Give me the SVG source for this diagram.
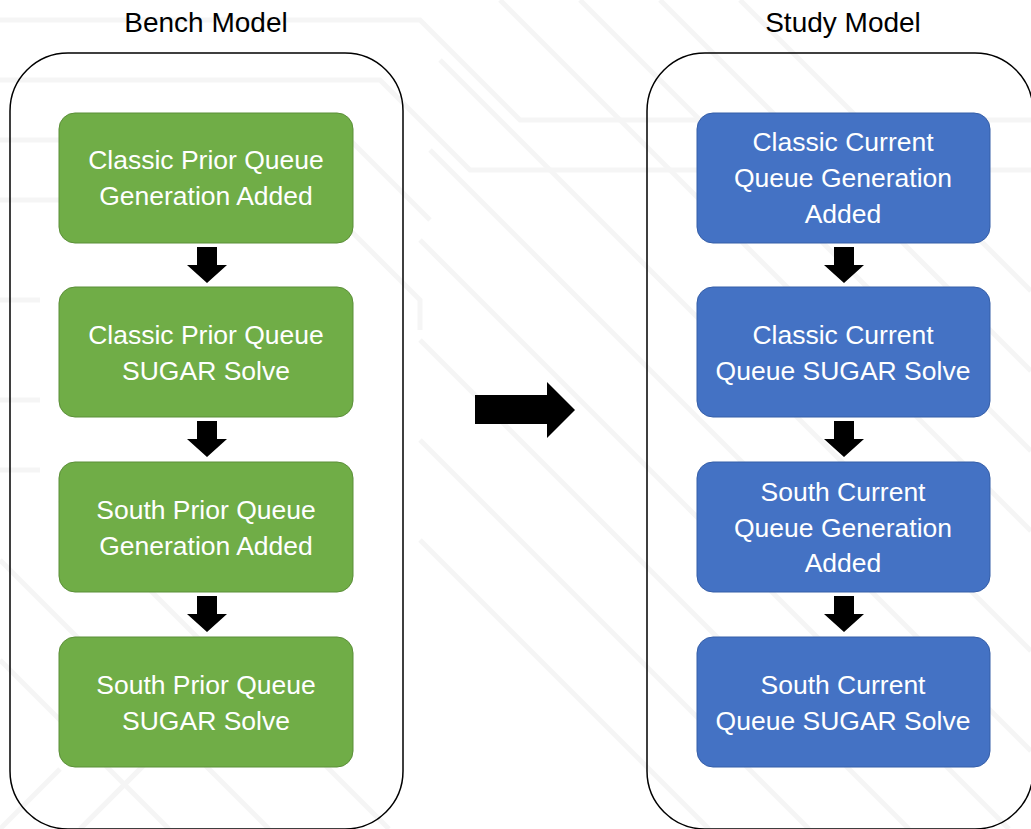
<svg xmlns="http://www.w3.org/2000/svg" width="1031" height="829" viewBox="0 0 1031 829">
<style>
.bg{fill:none;stroke:#f5f5f5;stroke-width:5}
.cont{fill:none;stroke:#000;stroke-width:1.5}
.title{font-family:"Liberation Sans",Arial,sans-serif;font-size:28px;fill:#000;text-anchor:middle}
.g{fill:#70AD47;stroke:#5b8f38;stroke-width:1}
.b{fill:#4472C4;stroke:#355ea8;stroke-width:1}
.lbl{font-family:"Liberation Sans",Arial,sans-serif;font-size:26.5px;fill:#fff;text-anchor:middle}
.arr{fill:#000}
</style>
<rect width="1031" height="829" fill="#fff"/>
<g id="background">
<path class="bg" d="M0 20 H420 L520 120 H1031"/>
<path class="bg" d="M0 80 H380 L470 170 H1031"/>
<path class="bg" d="M0 140 H350 L430 220"/>
<path class="bg" d="M0 200 H320 L420 300 V330"/>
<path class="bg" d="M0 300 H40"/>
<path class="bg" d="M0 400 H40"/>
<path class="bg" d="M0 470 H40"/>
<path class="bg" d="M500 0 L1031 531"/>
<path class="bg" d="M580 0 L1031 451"/>
<path class="bg" d="M660 0 L1031 371"/>
<path class="bg" d="M740 0 L1031 291"/>
<path class="bg" d="M440 60 L1031 651"/>
<path class="bg" d="M430 150 L1031 751"/>
<path class="bg" d="M420 240 L1009 829"/>
<path class="bg" d="M420 340 L909 829"/>
<path class="bg" d="M420 440 L809 829"/>
<path class="bg" d="M420 540 L709 829"/>
<path class="bg" d="M0 560 L269 829"/>
<path class="bg" d="M0 660 L169 829"/>
<path class="bg" d="M60 500 L389 829"/>
<path class="bg" d="M0 829 L60 769"/>
<path class="bg" d="M80 829 L180 729"/>
</g>
<text class="title" x="206" y="32">Bench Model</text>
<text class="title" x="843" y="32">Study Model</text>
<g id="bench-container"><rect class="cont" x="10" y="53" width="393" height="776" rx="58" ry="58"/></g>
<g id="study-container"><rect class="cont" x="647" y="53" width="386" height="776" rx="58" ry="58"/></g>
<g id="g1"><rect class="g" x="59" y="113" width="294" height="130" rx="16"/><text class="lbl" x="206" y="169">Classic Prior Queue</text><text class="lbl" x="206" y="205">Generation Added</text></g>
<g id="g2"><rect class="g" x="59" y="287" width="294" height="130" rx="16"/><text class="lbl" x="206" y="344">Classic Prior Queue</text><text class="lbl" x="206" y="380">SUGAR Solve</text></g>
<g id="g3"><rect class="g" x="59" y="462" width="294" height="130" rx="16"/><text class="lbl" x="206" y="519">South Prior Queue</text><text class="lbl" x="206" y="555">Generation Added</text></g>
<g id="g4"><rect class="g" x="59" y="637" width="294" height="130" rx="16"/><text class="lbl" x="206" y="694">South Prior Queue</text><text class="lbl" x="206" y="730">SUGAR Solve</text></g>
<g id="b1"><rect class="b" x="697" y="113" width="293" height="130" rx="16"/><text class="lbl" x="843" y="151">Classic Current</text><text class="lbl" x="843" y="187">Queue Generation</text><text class="lbl" x="843" y="223">Added</text></g>
<g id="b2"><rect class="b" x="697" y="287" width="293" height="130" rx="16"/><text class="lbl" x="843" y="344">Classic Current</text><text class="lbl" x="843" y="380">Queue SUGAR Solve</text></g>
<g id="b3"><rect class="b" x="697" y="462" width="293" height="130" rx="16"/><text class="lbl" x="843" y="501">South Current</text><text class="lbl" x="843" y="537">Queue Generation</text><text class="lbl" x="843" y="572">Added</text></g>
<g id="b4"><rect class="b" x="697" y="637" width="293" height="130" rx="16"/><text class="lbl" x="843" y="694">South Current</text><text class="lbl" x="843" y="730">Queue SUGAR Solve</text></g>
<g id="connectors">
<defs><path id="down" d="M-10 0 H10 V18 H20 L0 36 L-20 18 H-10 Z"/></defs>
<use href="#down" class="arr" x="207" y="247"/>
<use href="#down" class="arr" x="207" y="421"/>
<use href="#down" class="arr" x="207" y="596"/>
<use href="#down" class="arr" x="844" y="247"/>
<use href="#down" class="arr" x="844" y="421"/>
<use href="#down" class="arr" x="844" y="596"/>
<path class="arr" d="M475 395 H547 V382 L575 410 L547 438 V424 H475 Z"/>
</g>
</svg>
